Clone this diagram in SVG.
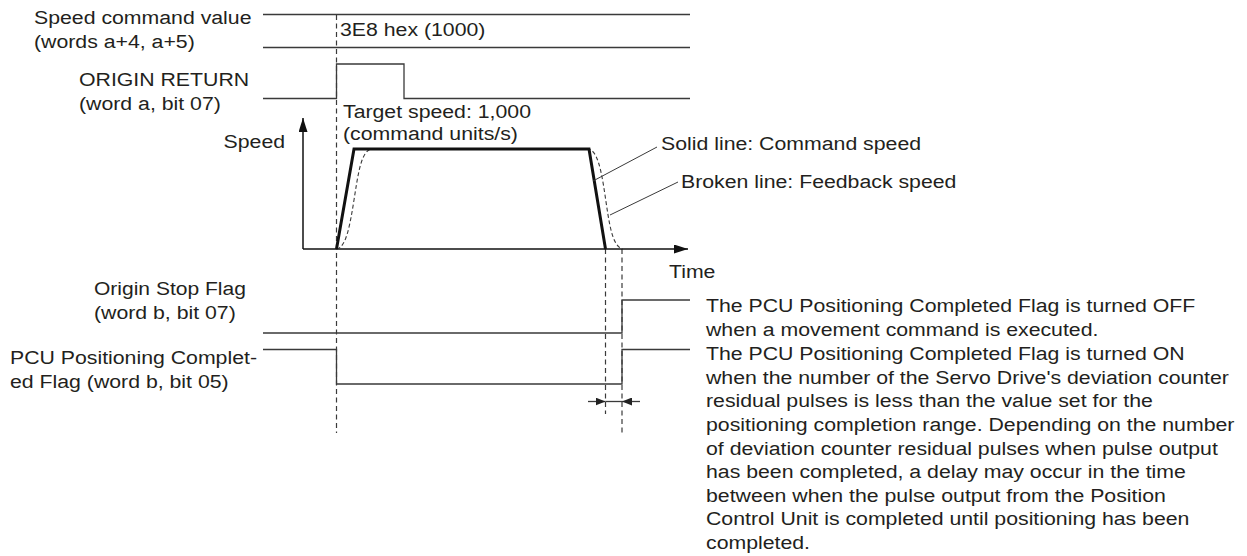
<svg xmlns="http://www.w3.org/2000/svg" width="1247" height="556" viewBox="0 0 1247 556">
<style>
  text { font-family: "Liberation Sans", Arial, sans-serif; font-size: 19px; fill: #231f20; }
  .sig { fill: none; stroke: #3a3a3a; stroke-width: 1.3; }
  .dash { fill: none; stroke: #3a3a3a; stroke-width: 1.2; stroke-dasharray: 5 3.5; }
  .fb { fill: none; stroke: #3a3a3a; stroke-width: 1.1; stroke-dasharray: 4 2.5; }
  .cmd { fill: none; stroke: #111; stroke-width: 3; stroke-linejoin: miter; }
  .axis { fill: none; stroke: #111; stroke-width: 1.5; }
  .lead { fill: none; stroke: #3a3a3a; stroke-width: 1; }
</style>
<defs>
  <marker id="axArrow" viewBox="0 0 14 9" refX="14" refY="4.5" markerWidth="14" markerHeight="9" markerUnits="userSpaceOnUse" orient="auto">
    <path d="M0,0 L14,4.5 L0,9 z" fill="#111"/>
  </marker>
  <marker id="dimArrow" viewBox="0 0 10 8" refX="10" refY="4" markerWidth="10" markerHeight="8" markerUnits="userSpaceOnUse" orient="auto">
    <path d="M0,0 L10,4 L0,8 z" fill="#222"/>
  </marker>
</defs>

<g id="connectors">
  <!-- dashed timing guides -->
  <line class="dash" x1="336.5" y1="15" x2="336.5" y2="433"/>
  <line class="dash" x1="605.5" y1="249" x2="605.5" y2="414"/>
  <line class="dash" x1="622" y1="249" x2="622" y2="433"/>

  <!-- Speed command value -->
  <line class="sig" x1="263" y1="14.5" x2="690" y2="14.5"/>
  <line class="sig" x1="263" y1="47.5" x2="690" y2="47.5"/>

  <!-- ORIGIN RETURN -->
  <polyline class="sig" points="263,98.5 336.5,98.5 336.5,64 404,64 404,98.5 690,98.5"/>

  <!-- Speed axes -->
  <line class="axis" x1="303" y1="249" x2="303" y2="118" marker-end="url(#axArrow)"/>
  <line class="axis" x1="303" y1="249" x2="688" y2="249" marker-end="url(#axArrow)"/>

  <!-- Feedback speed (broken line) -->
  <path class="fb" d="M336.5,249 C346,248 350,225 354,200 C358,175 361,150 372,149 L588,149 C597,150 601,168 605,195 C609,222 612,247 623,249"/>
  <!-- Command speed (solid line) -->
  <polyline class="cmd" points="336.5,249 354,149 589,149 605.5,249"/>

  <!-- leaders -->
  <line class="lead" x1="657" y1="147" x2="593" y2="181"/>
  <line class="lead" x1="678" y1="182" x2="610" y2="215"/>

  <!-- Origin Stop Flag -->
  <polyline class="sig" points="263,333 622,333 622,300 690,300"/>

  <!-- PCU Positioning Completed Flag -->
  <polyline class="sig" points="263,349.5 336.5,349.5 336.5,384 622,384 622,349.5 690,349.5"/>

  <!-- delay dimension arrows -->
  <line class="sig" x1="588" y1="401.5" x2="605.5" y2="401.5" marker-end="url(#dimArrow)"/>
  <line class="sig" x1="605.5" y1="401.5" x2="622" y2="401.5"/>
  <line class="sig" x1="640" y1="401.5" x2="622" y2="401.5" marker-end="url(#dimArrow)"/>
</g>

<g transform="scale(1.12,1)">
  <g id="label-speed-command">
    <text x="30.36" y="24">Speed command value</text>
    <text x="30.36" y="48">(words a+4, a+5)</text>
  </g>
  <g id="label-3e8">
    <text x="303.6" y="36">3E8 hex (1000)</text>
  </g>
  <g id="label-origin-return">
    <text x="70.54" y="86">ORIGIN RETURN</text>
    <text x="70.54" y="110">(word a, bit 07)</text>
  </g>
  <g id="label-target-speed">
    <text x="306.25" y="118">Target speed: 1,000</text>
    <text x="306.25" y="140">(command units/s)</text>
  </g>
  <g id="label-speed">
    <text x="199.6" y="148">Speed</text>
  </g>
  <g id="label-solid">
    <text x="590.2" y="150">Solid line: Command speed</text>
  </g>
  <g id="label-broken">
    <text x="608" y="188">Broken line: Feedback speed</text>
  </g>
  <g id="label-time">
    <text x="597.3" y="278">Time</text>
  </g>
  <g id="label-origin-stop">
    <text x="83.9" y="295" textLength="135.7" lengthAdjust="spacingAndGlyphs">Origin Stop Flag</text>
    <text x="83.9" y="319">(word b, bit 07)</text>
  </g>
  <g id="label-pcu">
    <text x="8.93" y="364">PCU Positioning Complet-</text>
    <text x="8.93" y="388">ed Flag (word b, bit 05)</text>
  </g>
  <g id="note">
    <text x="630.36" y="312.5">The PCU Positioning Completed Flag is turned OFF</text>
    <text x="630.36" y="336.2">when a movement command is executed.</text>
    <text x="630.36" y="359.9">The PCU Positioning Completed Flag is turned ON</text>
    <text x="630.36" y="383.6">when the number of the Servo Drive's deviation counter</text>
    <text x="630.36" y="407.3">residual pulses is less than the value set for the</text>
    <text x="630.36" y="431">positioning completion range. Depending on the number</text>
    <text x="630.36" y="454.6">of deviation counter residual pulses when pulse output</text>
    <text x="630.36" y="478.2">has been completed, a delay may occur in the time</text>
    <text x="630.36" y="501.8">between when the pulse output from the Position</text>
    <text x="630.36" y="525.4">Control Unit is completed until positioning has been</text>
    <text x="630.36" y="549">completed.</text>
  </g>
</g>
</svg>
